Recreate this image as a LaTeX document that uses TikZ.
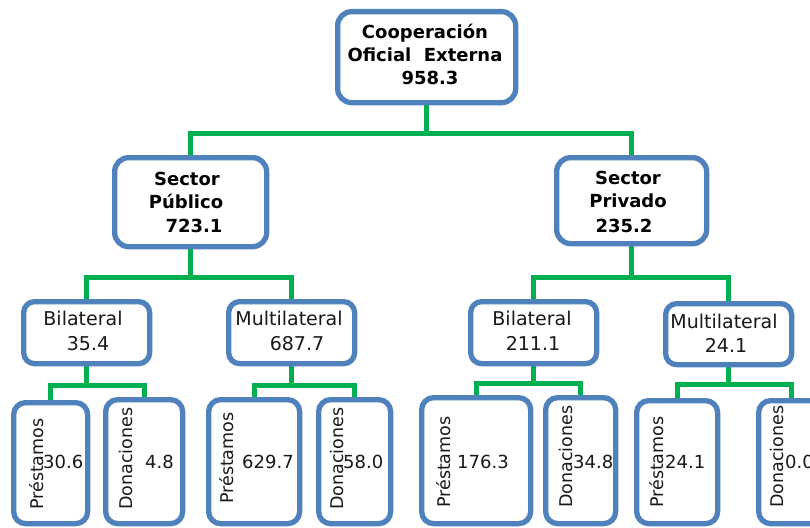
\documentclass[tikz,border=0pt]{standalone}
\usepackage{fontspec}
\setmainfont{DejaVu Sans}
\usetikzlibrary{backgrounds}
\definecolor{boxblue}{RGB}{79,129,189}
\definecolor{lgreen}{RGB}{0,176,80}
\tikzset{
  box/.style={draw=boxblue, line width=5.3pt, fill=white, rounded corners=14pt, anchor=north west, inner sep=0pt},
  conn/.style={draw=lgreen, line width=4.8pt},
  hd/.style={font=\fontsize{18}{20}\selectfont\bfseries, anchor=base, inner sep=0pt, text=black},
  lab/.style={font=\fontsize{19}{21}\selectfont, anchor=base, inner sep=0pt, text=black!90},
  num/.style={font=\fontsize{18}{20}\selectfont, inner sep=0pt, text=black!90},
  rot/.style={font=\fontsize{17.5}{20}\selectfont, rotate=90, anchor=base west, inner sep=0pt, text=black!90}
}
\begin{document}
\begin{tikzpicture}[x=1pt,y=-1pt]
\useasboundingbox (0,0) rectangle (810,527);
\clip (0,0) rectangle (810,527);
% level 1
\node[box, minimum width=178pt, minimum height=91pt] (top) at (335,9) {};
\node[hd] (t1) at (425,38) {Cooperación};
\node[hd] (t2) at (425,62) {Oficial\ \ Externa};
\node[hd] (t3) at (430,84) {958.3};
% level 2
\node[box, minimum width=152pt, minimum height=89pt] (pub) at (112,155) {};
\node[hd] (pu1) at (187,185) {Sector};
\node[hd] (pu2) at (186,208) {Público};
\node[hd] (pu3) at (194,232) {723.1};
\node[box, minimum width=150pt, minimum height=86pt] (priv) at (554,155) {};
\node[hd] (pr1) at (628,184) {Sector};
\node[hd] (pr2) at (628,207) {Privado};
\node[hd] (pr3) at (624,232) {235.2};
% level 3
\node[box, minimum width=126pt, minimum height=62pt, rounded corners=11pt] (b1) at (21,299) {};
\node[lab] (b1a) at (83,325) {Bilateral};
\node[lab] (b1b) at (88,350) {35.4};
\node[box, minimum width=126pt, minimum height=62pt, rounded corners=11pt] (m1) at (226,299) {};
\node[lab] (m1a) at (289,325) {Multilateral};
\node[lab] (m1b) at (297,350) {687.7};
\node[box, minimum width=126pt, minimum height=62pt, rounded corners=11pt] (b2) at (468,299) {};
\node[lab] (b2a) at (532,325) {Bilateral};
\node[lab] (b2b) at (533,350) {211.1};
\node[box, minimum width=126pt, minimum height=61pt, rounded corners=11pt] (m2) at (663,301) {};
\node[lab] (m2a) at (724,328) {Multilateral};
\node[lab] (m2b) at (726,352) {24.1};
% level 4
\node[box, minimum width=74pt, minimum height=121pt, rounded corners=12pt] (p1) at (11,400) {};
\node[box, minimum width=77pt, minimum height=124pt, rounded corners=12pt] (d1) at (103,397) {};
\node[box, minimum width=91pt, minimum height=124pt, rounded corners=12pt] (p2) at (206,397) {};
\node[box, minimum width=72pt, minimum height=124pt, rounded corners=12pt] (d2) at (316,397) {};
\node[box, minimum width=109pt, minimum height=126pt, rounded corners=12pt] (p3) at (419,395) {};
\node[box, minimum width=70pt, minimum height=126pt, rounded corners=12pt] (d3) at (543,395) {};
\node[box, minimum width=81pt, minimum height=123pt, rounded corners=12pt] (p4) at (634,398) {};
\node[box, minimum width=66pt, minimum height=123pt, rounded corners=12pt] (d4) at (756,398) {};
\node[rot] (p1t) at (43,510) {Préstamos};
\node[num, anchor=base west] (p1n) at (43,468) {30.6};
\node[rot] (d1t) at (132,510) {Donaciones};
\node[num, anchor=base west] (d1n) at (145,468) {4.8};
\node[rot] (p2t) at (233,504) {Préstamos};
\node[num, anchor=base west] (p2n) at (242,468) {629.7};
\node[rot] (d2t) at (343,510) {Donaciones};
\node[num, anchor=base west] (d2n) at (343,468) {58.0};
\node[rot] (p3t) at (450,508) {Préstamos};
\node[num, anchor=base west] (p3n) at (457,468) {176.3};
\node[rot] (d3t) at (572,508) {Donaciones};
\node[num, anchor=base west] (d3n) at (573,468) {34.8};
\node[rot] (p4t) at (663,508) {Préstamos};
\node[num, anchor=base west] (p4n) at (665,468) {24.1};
\node[rot] (d4t) at (783,508) {Donaciones};
\node[num, anchor=base west] (d4n) at (785,468) {0.0};
% connectors
\begin{scope}[on background layer]
\fill[white] (0,0) rectangle (810,527);
\draw[conn] (top.south) -- ++(0,28) coordinate (j0);
\draw[conn] (pub.north) |- (j0) -| (priv.north);
\draw[conn] (pub.south) -- ++(0,28) coordinate (j1);
\draw[conn] (b1.north) |- (j1) -| (m1.north);
\draw[conn] (priv.south) -- ++(0,31) coordinate (j2);
\draw[conn] (b2.north) |- (j2) -| (m2.north);
\draw[conn] (b1.south) -- ++(0,19) coordinate (j3);
\draw[conn] (p1.north) |- (j3) -| (d1.north);
\draw[conn] (m1.south) -- ++(0,19) coordinate (j4);
\draw[conn] (p2.north) |- (j4) -| (d2.north);
\draw[conn] (b2.south) -- ++(0,17) coordinate (j5);
\draw[conn] (p3.north) |- (j5) -| (d3.north);
\draw[conn] (m2.south) -- ++(0,17) coordinate (j6);
\draw[conn] (p4.north) |- (j6) -| (d4.north);
\end{scope}
\end{tikzpicture}
\end{document}
